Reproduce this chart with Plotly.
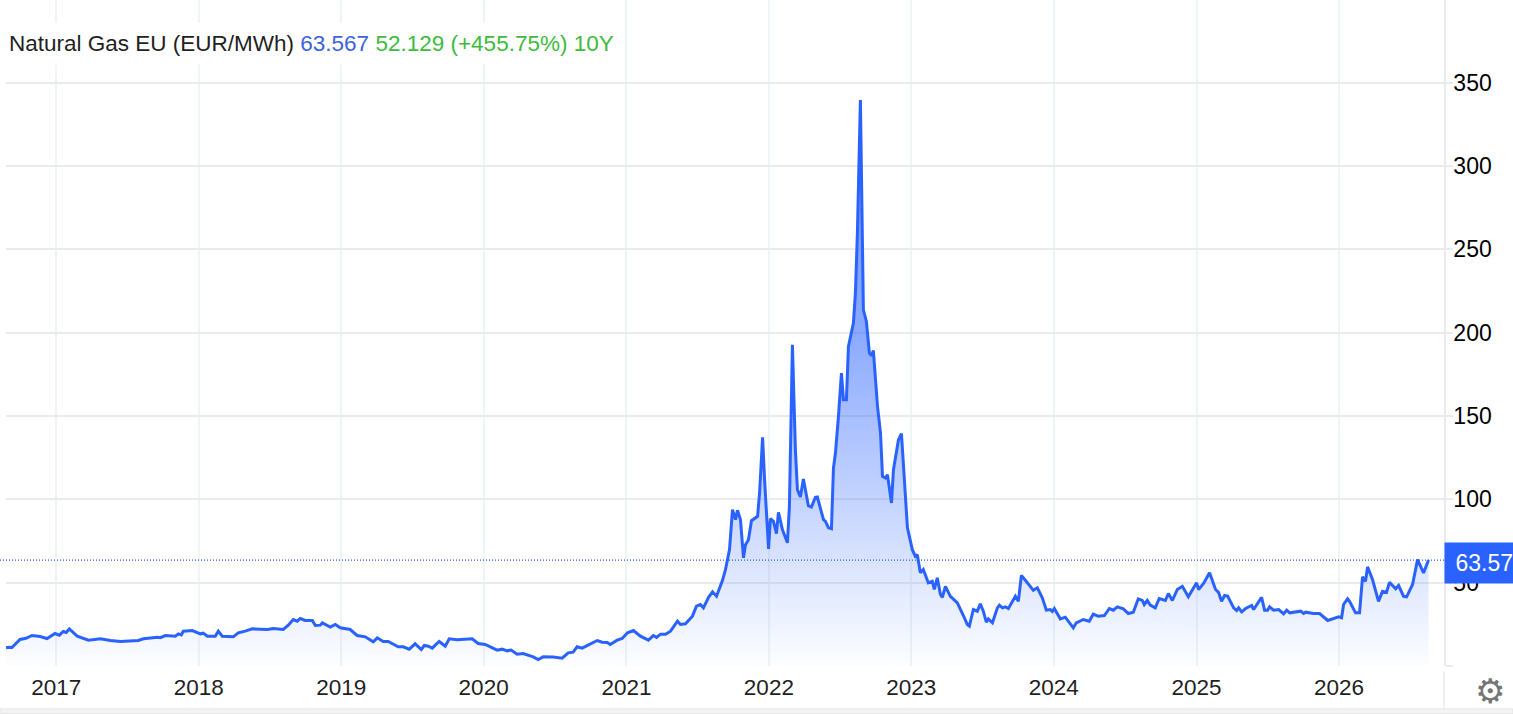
import pandas as pd
import plotly.graph_objects as go

# decimal year / EUR per MWh
year_pos = [
    2016.649, 2016.670, 2016.691, 2016.747, 2016.789, 2016.832, 2016.888, 2016.937, 2016.993,
    2017.021, 2017.049, 2017.070, 2017.091, 2017.147, 2017.225, 2017.309, 2017.379, 2017.449,
    2017.575, 2017.611, 2017.709, 2017.730, 2017.765, 2017.835, 2017.856, 2017.877, 2017.891,
    2017.954, 2018.011, 2018.032, 2018.060, 2018.116, 2018.137, 2018.165, 2018.242, 2018.277,
    2018.326, 2018.375, 2018.481, 2018.523, 2018.593, 2018.628, 2018.663, 2018.691, 2018.712,
    2018.747, 2018.797, 2018.818, 2018.853, 2018.867, 2018.923, 2018.958, 2018.993,
    2019.063, 2019.112, 2019.169, 2019.225, 2019.253, 2019.295, 2019.330, 2019.400, 2019.435,
    2019.477, 2019.519, 2019.562, 2019.583, 2019.611, 2019.639, 2019.667, 2019.688, 2019.730,
    2019.758, 2019.814, 2019.870, 2019.919, 2019.961,
    2020.011, 2020.095, 2020.130, 2020.165, 2020.193, 2020.235, 2020.277, 2020.348, 2020.383,
    2020.418, 2020.488, 2020.551, 2020.593, 2020.628, 2020.656, 2020.691, 2020.747, 2020.797,
    2020.832, 2020.867, 2020.888, 2020.937, 2020.972,
    2021.007, 2021.049, 2021.098, 2021.154, 2021.189, 2021.211, 2021.239, 2021.274, 2021.309,
    2021.358, 2021.379, 2021.414, 2021.463, 2021.491, 2021.519, 2021.540, 2021.576, 2021.604,
    2021.632, 2021.674, 2021.695, 2021.723, 2021.744, 2021.765, 2021.779, 2021.800, 2021.821,
    2021.835, 2021.856, 2021.877, 2021.920, 2021.934, 2021.955, 2021.969, 2021.997,
    2022.011, 2022.032, 2022.053, 2022.067, 2022.095, 2022.130, 2022.144, 2022.165, 2022.186,
    2022.200, 2022.221, 2022.242, 2022.277, 2022.298, 2022.326, 2022.340, 2022.383, 2022.397,
    2022.418, 2022.439, 2022.453, 2022.467, 2022.488, 2022.509, 2022.523, 2022.544, 2022.558,
    2022.593, 2022.607, 2022.621, 2022.642, 2022.663, 2022.684, 2022.705, 2022.719, 2022.733,
    2022.762, 2022.783, 2022.797, 2022.818, 2022.832, 2022.860, 2022.874, 2022.909, 2022.930,
    2022.944, 2022.972,
    2023.007, 2023.028, 2023.042, 2023.063, 2023.084, 2023.119, 2023.147, 2023.161, 2023.182,
    2023.204, 2023.218, 2023.239, 2023.274, 2023.323, 2023.365, 2023.393, 2023.407, 2023.435,
    2023.463, 2023.484, 2023.505, 2023.526, 2023.540, 2023.569, 2023.604, 2023.618, 2023.639,
    2023.660, 2023.681, 2023.730, 2023.751, 2023.772, 2023.800, 2023.835, 2023.856, 2023.884,
    2023.919, 2023.947, 2023.975, 2023.989,
    2024.004, 2024.046, 2024.081, 2024.137, 2024.158, 2024.207, 2024.249, 2024.277, 2024.312,
    2024.355, 2024.390, 2024.418, 2024.446, 2024.488, 2024.523, 2024.558, 2024.593, 2024.621,
    2024.635, 2024.656, 2024.677, 2024.712, 2024.740, 2024.783, 2024.804, 2024.832, 2024.867,
    2024.902, 2024.944,
    2025.000, 2025.014, 2025.049, 2025.091, 2025.133, 2025.154, 2025.175, 2025.197, 2025.218,
    2025.260, 2025.281, 2025.295, 2025.316, 2025.344, 2025.386, 2025.400, 2025.456, 2025.477,
    2025.498, 2025.512, 2025.540, 2025.576, 2025.611, 2025.632, 2025.653, 2025.730, 2025.751,
    2025.765, 2025.821, 2025.863, 2025.920, 2025.997,
    2026.018, 2026.032, 2026.060, 2026.074, 2026.116, 2026.144, 2026.165, 2026.186, 2026.200,
    2026.235, 2026.277, 2026.305, 2026.333, 2026.354, 2026.397, 2026.418, 2026.453, 2026.474,
    2026.516, 2026.551, 2026.593, 2026.628,
]
prices = [
    10.9, 11.3, 11.1, 15.9, 16.6, 18.3, 17.7, 16.5, 19.5,
    18.5, 20.7, 20.1, 22.3, 17.9, 15.5, 16.3, 15.3, 14.7,
    15.3, 16.3, 17.3, 17.0, 18.3, 17.9, 19.3, 18.7, 20.9,
    21.3, 19.3, 19.7, 17.9, 17.9, 20.9, 17.9, 17.5, 19.9,
    20.9, 22.3, 21.9, 22.5, 21.9, 24.5, 27.9, 26.9, 28.5,
    27.3, 27.3, 24.3, 24.5, 25.9, 23.3, 24.9, 22.9,
    21.9, 18.3, 17.5, 14.5, 16.9, 14.7, 14.7, 11.5, 11.5,
    10.1, 13.3, 9.9, 12.3, 11.9, 10.7, 13.1, 14.7, 11.9,
    16.3, 15.7, 16.1, 16.3, 13.5,
    12.9, 9.5, 10.1, 9.1, 9.6, 7.1, 7.5, 5.5, 3.9,
    5.5, 5.4, 4.7, 7.9, 8.3, 11.5, 10.7, 13.3, 15.3,
    14.3, 14.1, 12.9, 15.5, 16.5,
    19.9, 21.3, 17.9, 15.5, 18.3, 17.2, 19.1, 19.1, 20.9,
    26.9, 24.9, 25.3, 29.9, 35.9, 36.9, 34.9, 41.2, 44.5,
    41.9, 51.4, 57.9, 69.8, 93.8, 87.8, 93.4, 87.8, 64.9,
    72.8, 75.8, 87.2, 89.8, 103.8, 137.2, 111.8, 70.3,
    88.4, 86.8, 79.4, 92.2, 81.8, 73.9, 95.8, 192.8, 129.8,
    105.8, 101.4, 112.2, 96.2, 95.4, 101.2, 101.4, 87.8, 86.8,
    82.9, 82.4, 118.8, 127.8, 149.8, 175.8, 159.8, 159.8, 191.7,
    205.8, 223.7, 260.0, 339.6, 213.7, 206.7, 187.8, 186.2, 189.3,
    155.8, 139.8, 113.8, 112.8, 114.8, 97.8, 117.8, 135.8, 139.4,
    118.0, 82.9,
    69.8, 65.8, 66.8, 55.9, 57.9, 49.9, 50.8, 45.9, 52.9,
    42.9, 41.2, 47.8, 41.8, 37.9, 30.3, 24.9, 23.9, 33.9,
    32.9, 37.3, 32.9, 26.3, 28.3, 25.9, 34.9, 36.5, 34.9,
    35.5, 34.5, 41.8, 38.8, 54.3, 51.4, 47.8, 45.4, 46.9,
    40.9, 33.5, 33.9, 32.7,
    34.5, 28.3, 29.3, 22.9, 25.9, 27.9, 26.9, 31.1, 29.9,
    30.3, 34.5, 33.5, 35.5, 34.3, 31.5, 32.3, 40.3, 39.4,
    36.9, 39.3, 36.5, 34.9, 40.5, 39.3, 43.5, 39.3, 45.9,
    47.8, 41.5,
    49.9, 45.9, 49.5, 55.9, 45.9, 44.2, 38.8, 42.3, 42.0,
    34.9, 33.3, 34.9, 32.5, 34.5, 36.3, 33.9, 41.2, 33.5,
    33.5, 35.5, 33.5, 33.9, 31.3, 33.5, 31.9, 32.9, 31.5,
    32.3, 31.5, 31.5, 27.3, 29.5,
    28.9, 36.9, 40.3, 38.8, 31.9, 31.9, 53.5, 50.8, 59.5,
    51.9, 38.8, 44.8, 44.2, 50.2, 46.3, 48.3, 41.8, 41.5,
    48.9, 63.8, 55.9, 63.57,
]
y_ticks = [50, 100, 150, 200, 250, 300, 350]
last_price = 63.57

BLUE = "#2962ff"
GRID_H = "#e9ebec"
GRID_V = "#eff4f6"
FONT = "Liberation Sans"

dates = [
    pd.Timestamp(year=int(y), month=1, day=1) + pd.Timedelta(days=(y % 1) * 365.25)
    for y in year_pos
]

header = (
    '<span style="color:#1f1f24">Natural Gas EU (EUR/MWh)</span> '
    '<span style="color:#3d63dd">63.567</span> '
    '<span style="color:#3dbb3d">52.129 (+455.75%) 10Y</span>'
)

fig = go.Figure()
fig.add_trace(
    go.Scatter(
        x=dates,
        y=prices,
        mode="lines",
        line=dict(color=BLUE, width=3),
        fill="tozeroy",
        fillgradient=dict(
            type="vertical",
            colorscale=[
                [0, "rgba(41,98,255,0.01)"],
                [0.6, "rgba(41,98,255,0.55)"],
                [1, "rgba(41,98,255,0.7)"],
            ],
        ),
        showlegend=False,
    )
)

fig.update_layout(
    width=1513,
    height=714,
    margin=dict(l=6, r=69, t=0, b=47.5),
    paper_bgcolor="white",
    plot_bgcolor="white",
    font=dict(family=FONT),
    showlegend=False,
    shapes=[
        # last price marker
        dict(type="line", xref="paper", x0=-0.0042, x1=1, yref="y", y0=last_price, y1=last_price,
             line=dict(color="#2457e8", width=1.2, dash="1px,2px")),
        # axis stub under the plot and the strip at the foot of the page
        dict(type="line", xref="paper", x0=1, x1=1, yref="paper", y0=-0.008, y1=-0.0645,
             line=dict(color=GRID_H, width=1.5)),
        dict(type="rect", xref="paper", x0=-0.0042, x1=1.048, yref="paper", y0=-0.0645, y1=-0.0713,
             fillcolor="#f4f4f4", line=dict(color="#e4e4e4", width=1)),
    ],
)

fig.update_xaxes(
    range=[dates[0], pd.Timestamp("2026-09-27")],
    dtick="M12",
    tick0="2017-01-01",
    tickformat="%Y",
    showgrid=True,
    gridcolor=GRID_V,
    gridwidth=1.5,
    ticks="outside",
    ticklen=1,
    tickcolor="rgba(0,0,0,0)",
    tickfont=dict(size=22.5, color="#1f1f24"),
    showline=False,
    zeroline=False,
)
fig.update_yaxes(
    range=[0, 399.6],
    side="right",
    tickvals=[0] + y_ticks,
    ticktext=[""] + [str(v) for v in y_ticks],
    showgrid=True,
    gridcolor=GRID_H,
    gridwidth=1.5,
    ticks="outside",
    ticklen=7,
    tickwidth=1.5,
    tickcolor=GRID_H,
    tickfont=dict(size=23, color="#000000"),
    ticklabelstandoff=-4,
    showline=True,
    linecolor=GRID_H,
    linewidth=1.5,
    zeroline=False,
)

fig.add_annotation(
    text=header,
    xref="paper",
    yref="paper",
    x=-0.0042,
    y=0.967,
    xanchor="left",
    yanchor="top",
    showarrow=False,
    align="left",
    bgcolor="white",
    borderpad=8,
    font=dict(size=22.5, family=FONT),
)
fig.add_annotation(
    text=f"{last_price:.2f}",
    xref="paper",
    yref="y",
    x=1,
    y=last_price,
    yshift=-3,
    xanchor="left",
    yanchor="middle",
    showarrow=False,
    width=67,
    height=38,
    align="right",
    bgcolor=BLUE,
    font=dict(size=23, color="white", family=FONT),
)
fig.add_annotation(
    text="⚙",
    xref="paper",
    yref="paper",
    x=1.0321,
    y=-0.0345,
    yshift=-2,
    xanchor="center",
    yanchor="middle",
    showarrow=False,
    font=dict(size=34, color="#757575", family="DejaVu Sans"),
)

fig.write_html(
    "out.html",
    config={"displayModeBar": False},
    post_script="document.body.style.margin='0';",
)
